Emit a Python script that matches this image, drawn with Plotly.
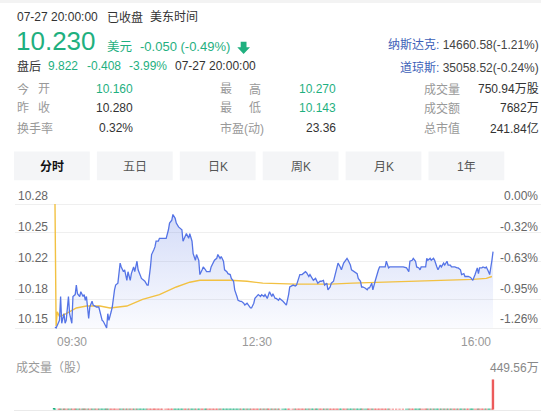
import plotly.graph_objects as go

W, H = 554, 415
FONT = "Arial, Liberation Sans, Noto Sans CJK SC, sans-serif"
GREEN = "#1fb07f"
RED = "#ec5b5b"
DARK = "#333333"
GRAY = "#999999"
AXIS_GRAY = "#666666"
BLUE_NAME = "#3d5fb8"

# ---------------- data ----------------
prev_close = 10.28
minutes = [
    0, 1, 4, 5, 6, 8, 9, 10, 12, 13,
    15, 16, 18, 19, 20, 22, 23, 25, 26, 27,
    28, 30, 31, 33, 34, 36, 37, 39, 40, 42,
    43, 45, 46, 47, 48, 50, 51, 53, 54, 56,
    58, 59, 61, 62, 64, 65, 67, 68, 70, 71,
    73, 74, 76, 77, 79, 80, 82, 83, 85, 86,
    88, 89, 90, 92, 93, 95, 96, 99, 101, 102,
    104, 105, 107, 108, 110, 111, 113, 114, 116, 117,
    119, 120, 122, 123, 125, 126, 128, 129, 131, 132,
    134, 135, 136, 138, 139, 141, 142, 144, 145, 147,
    148, 150, 151, 153, 154, 156, 157, 159, 160, 162,
    163, 165, 166, 168, 169, 171, 172, 174, 175, 177,
    178, 180, 181, 183, 184, 186, 187, 189, 190, 191,
    193, 194, 196, 197, 199, 200, 203, 205, 206, 208,
    209, 212, 214, 215, 217, 218, 220, 221, 223, 224,
    226, 227, 229, 230, 232, 233, 234, 236, 237, 239,
    240, 242, 243, 245, 246, 248, 249, 251, 252, 254,
    255, 257, 258, 260, 261, 263, 264, 266, 267, 269,
    270, 272, 273, 274, 276, 278, 279, 280, 282, 283,
    285, 286, 288, 289, 291, 292, 294, 295, 297, 298,
    301, 304, 307, 310, 313, 315, 316, 318, 319, 321,
    322, 324, 325, 326, 328, 330, 331, 332, 334, 335,
    337, 338, 340, 341, 343, 344, 346, 347, 349, 350,
    352, 353, 355, 356, 358, 359, 361, 362, 364, 365,
    367, 368, 370, 371, 372, 374, 376, 377, 378, 380,
    381, 383, 384, 386, 387, 389, 390,
]
price = [
    10.151, 10.150, 10.158, 10.183, 10.155, 10.165, 10.155, 10.158, 10.183, 10.165,
    10.155, 10.183, 10.185, 10.195, 10.186, 10.183, 10.188, 10.183, 10.185, 10.179,
    10.183, 10.160, 10.172, 10.178, 10.174, 10.172, 10.172, 10.172, 10.167, 10.158,
    10.157, 10.153, 10.150, 10.165, 10.158, 10.167, 10.172, 10.190, 10.195, 10.197,
    10.218, 10.214, 10.209, 10.211, 10.200, 10.209, 10.200, 10.207, 10.214, 10.209,
    10.220, 10.211, 10.204, 10.202, 10.200, 10.199, 10.195, 10.195, 10.214, 10.227,
    10.232, 10.235, 10.241, 10.241, 10.244, 10.244, 10.244, 10.244, 10.253, 10.260,
    10.263, 10.269, 10.265, 10.260, 10.256, 10.255, 10.253, 10.241, 10.246, 10.249,
    10.244, 10.249, 10.241, 10.228, 10.221, 10.227, 10.221, 10.206, 10.211, 10.214,
    10.211, 10.209, 10.209, 10.209, 10.214, 10.220, 10.221, 10.223, 10.227, 10.223,
    10.225, 10.220, 10.211, 10.209, 10.207, 10.206, 10.202, 10.199, 10.190, 10.183,
    10.179, 10.178, 10.178, 10.176, 10.174, 10.176, 10.174, 10.171, 10.171, 10.176,
    10.181, 10.183, 10.185, 10.183, 10.185, 10.183, 10.185, 10.181, 10.186, 10.188,
    10.183, 10.186, 10.181, 10.181, 10.179, 10.181, 10.178, 10.176, 10.174, 10.185,
    10.193, 10.195, 10.194, 10.195, 10.204, 10.206, 10.206, 10.207, 10.209, 10.208,
    10.204, 10.206, 10.202, 10.200, 10.202, 10.199, 10.197, 10.199, 10.199, 10.200,
    10.195, 10.197, 10.190, 10.193, 10.197, 10.199, 10.204, 10.213, 10.218, 10.214,
    10.211, 10.218, 10.220, 10.223, 10.221, 10.216, 10.211, 10.209, 10.209, 10.207,
    10.202, 10.199, 10.193, 10.193, 10.192, 10.190, 10.192, 10.192, 10.197, 10.190,
    10.199, 10.204, 10.211, 10.214, 10.214, 10.214, 10.214, 10.220, 10.213, 10.214,
    10.214, 10.214, 10.214, 10.214, 10.213, 10.209, 10.220, 10.221, 10.223, 10.220,
    10.214, 10.213, 10.211, 10.214, 10.214, 10.214, 10.223, 10.221, 10.223, 10.221,
    10.223, 10.221, 10.214, 10.211, 10.216, 10.214, 10.218, 10.216, 10.220, 10.216,
    10.216, 10.214, 10.214, 10.214, 10.213, 10.213, 10.211, 10.206, 10.207, 10.204,
    10.204, 10.204, 10.203, 10.202, 10.200, 10.206, 10.213, 10.207, 10.213, 10.213,
    10.214, 10.213, 10.214, 10.209, 10.206, 10.221, 10.230,
]
# volume per bar, in 万股
volume_wan = [
    12.5, 3.2, 2.8, 2.1, 1.9, 1.6, 1.4, 1.5, 1.3, 1.2,
    1.1, 1.4, 0.9, 1.0, 0.8, 0.9, 0.7, 0.8, 0.9, 0.7,
    0.8, 1.1, 0.9, 0.7, 0.6, 0.8, 0.5, 0.6, 0.7, 0.9,
    0.8, 0.7, 1.0, 0.9, 0.6, 0.7, 0.8, 1.2, 0.9, 0.8,
    1.1, 0.7, 0.6, 0.5, 0.8, 0.6, 0.7, 0.5, 0.6, 0.5,
    0.7, 0.6, 0.5, 0.4, 0.5, 0.6, 0.5, 0.4, 0.8, 0.9,
    0.7, 0.6, 0.8, 0.5, 0.6, 0.4, 0.5, 0.5, 0.7, 0.9,
    0.8, 1.0, 0.7, 0.6, 0.5, 0.4, 0.5, 0.7, 0.5, 0.4,
    0.5, 0.4, 0.6, 0.8, 0.6, 0.5, 0.4, 0.7, 0.5, 0.4,
    0.4, 0.3, 0.4, 0.3, 0.5, 0.4, 0.3, 0.4, 0.5, 0.4,
    0.3, 0.4, 0.5, 0.4, 0.3, 0.4, 0.3, 0.4, 0.5, 0.6,
    0.4, 0.3, 0.3, 0.4, 0.3, 0.3, 0.4, 0.3, 0.2, 0.3,
    0.3, 0.2, 0.3, 0.3, 0.2, 0.3, 0.2, 0.3, 0.3, 0.2,
    0.3, 0.2, 0.3, 0.2, 0.3, 0.2, 0.3, 0.2, 0.2, 0.4,
    0.5, 0.3, 0.2, 0.3, 0.4, 0.3, 0.3, 0.2, 0.3, 0.2,
    0.3, 0.2, 0.3, 0.2, 0.2, 0.3, 0.2, 0.3, 0.2, 0.2,
    0.3, 0.2, 0.4, 0.3, 0.2, 0.3, 0.4, 0.5, 0.4, 0.3,
    0.3, 0.4, 0.3, 0.4, 0.3, 0.3, 0.2, 0.3, 0.3, 0.2,
    0.3, 0.3, 0.4, 0.3, 0.3, 0.3, 0.2, 0.3, 0.3, 0.4,
    0.4, 0.3, 0.4, 0.3, 0.3, 0.3, 0.2, 0.3, 0.3, 0.2,
    0.2, 0.2, 0.3, 0.2, 0.3, 0.3, 0.4, 0.3, 0.4, 0.3,
    0.3, 0.3, 0.3, 0.3, 0.3, 0.2, 0.4, 0.3, 0.3, 0.3,
    0.3, 0.3, 0.4, 0.3, 0.4, 0.4, 0.3, 0.4, 0.3, 0.4,
    0.4, 0.4, 0.4, 0.5, 0.4, 0.4, 0.5, 0.4, 0.5, 0.5,
    0.5, 0.6, 0.5, 0.6, 0.6, 0.7, 0.7, 0.8, 0.8, 0.9,
    0.9, 1.0, 1.0, 1.2, 1.3, 2.1, 449.56,
]
avg_minutes = [0, 1, 2, 4, 10, 19, 28, 40, 49, 64, 78, 93, 108, 120, 129, 141,
               156, 171, 185, 215, 245, 265, 295, 325, 355, 372, 384, 389]
avg_price = [10.280, 10.152, 10.167, 10.162, 10.165, 10.171, 10.173, 10.173, 10.171,
             10.173, 10.180, 10.185, 10.193, 10.198, 10.200, 10.200, 10.200, 10.199,
             10.197, 10.196, 10.196, 10.197, 10.198, 10.199, 10.200, 10.201, 10.202, 10.204]

grid_prices = [10.28, 10.25, 10.22, 10.18, 10.15]
pct_labels = [0.00, -0.32, -0.63, -0.95, -1.26]
time_labels = ["09:30", "12:30", "16:00"]
tabs = ["分时", "五日", "日K", "周K", "月K", "1年"]

header_time = "07-27 20:00:00"
last_price = "10.230"
change = "-0.050 (-0.49%)"
after_hours = ["9.822", "-0.408", "-3.99%"]
indices = [("纳斯达克", "14660.58(-1.21%)"), ("道琼斯", "35058.52(-0.24%)")]
stats = [
    [("今开", "10.160", GREEN), ("最高", "10.270", GREEN), ("成交量", "750.94万股", DARK)],
    [("昨收", "10.280", DARK), ("最低", "10.143", GREEN), ("成交额", "7682万", DARK)],
    [("换手率", "0.32%", DARK), ("市盈(动)", "23.36", DARK), ("总市值", "241.84亿", DARK)],
]

# ---------------- helpers ----------------
def px(x):
    return x / W

def py(y):
    return 1 - y / H

annotations = []
shapes = []

def txt(x, y, text, size=12, color=DARK, xanchor="left", xref="paper", bold=False):
    annotations.append(dict(
        x=px(x) if xref == "paper" else x, y=py(y), xref=xref, yref="paper",
        text=f"<b>{text}</b>" if bold else text, showarrow=False,
        xanchor=xanchor, yanchor="middle",
        font=dict(family=FONT, size=size, color=color)))

# ---------------- traces ----------------
fig = go.Figure()
base_val = min(grid_prices)
# baseline for the area fill
fig.add_trace(go.Scatter(x=[minutes[0], minutes[-1]], y=[base_val, base_val],
                         mode="lines", line=dict(width=0), hoverinfo="skip",
                         xaxis="x", yaxis="y"))
# area fill under the price line
fig.add_trace(go.Scatter(
    x=minutes, y=price, mode="lines",
    line=dict(color="rgba(0,0,0,0)", width=0),
    fill="tonexty",
    fillgradient=dict(type="vertical",
                      colorscale=[[0, "rgba(90,120,228,0.03)"], [1, "rgba(90,120,228,0.26)"]],
                      start=base_val, stop=max(price)),
    hoverinfo="skip", xaxis="x", yaxis="y"))
# average price line (left label axis shares the same range)
fig.add_trace(go.Scatter(x=avg_minutes, y=avg_price, mode="lines",
                         line=dict(color="#f2c142", width=1.4),
                         hoverinfo="skip", xaxis="x", yaxis="y2"))
# price line (right percent axis shares the same range)
fig.add_trace(go.Scatter(x=minutes, y=price, mode="lines",
                         line=dict(color="#5574e6", width=1.3),
                         hoverinfo="skip", xaxis="x", yaxis="y3"))

bar_colors = []
prev = prev_close
for p in price:
    bar_colors.append(RED if p >= prev else GREEN)
    prev = p
fig.add_trace(go.Bar(x=minutes, y=volume_wan, xaxis="x2", yaxis="y4",
                     marker=dict(color=bar_colors, line=dict(color=bar_colors, width=1.5)),
                     hoverinfo="skip"))

# ---------------- axes ----------------
x_range = [-35.6, 432.7]
y_range = [10.145, 10.30]
x_domain = [px(15), px(541)]
label_vals = [prev_close * (1 + p / 100) for p in pct_labels]

tick_font = dict(family=FONT, size=12, color=AXIS_GRAY)
fig.update_layout(
    xaxis=dict(domain=x_domain, range=x_range, visible=False, anchor="y"),
    yaxis=dict(domain=[py(332.77), py(184.92)], range=y_range, anchor="x",
               tickvals=grid_prices, showticklabels=False, ticks="",
               gridcolor="#efefef", gridwidth=1, zeroline=False, showline=False),
    yaxis2=dict(overlaying="y", side="left", anchor="x", range=y_range,
                tickvals=label_vals, ticktext=[f"{v:.2f}" for v in label_vals],
                ticklabelposition="inside top", showgrid=False, zeroline=False,
                ticks="", tickfont=tick_font),
    yaxis3=dict(overlaying="y", side="right", anchor="x", range=y_range,
                tickvals=label_vals, ticktext=[f"{p:.2f}%" for p in pct_labels],
                ticklabelposition="inside top", showgrid=False, zeroline=False,
                ticks="", tickfont=tick_font),
    xaxis2=dict(domain=[px(14), px(541)], range=x_range, anchor="y4",
                showline=True, linecolor="#eaeaea", linewidth=1,
                showticklabels=False, showgrid=False, zeroline=False, ticks=""),
    yaxis4=dict(domain=[py(409.6), py(379.6)], range=[0, max(volume_wan)],
                visible=False, anchor="x2"),
)

# x tick labels
for i, lab in enumerate(time_labels):
    h, m = lab.split(":")
    mval = int(h) * 60 + int(m) - (9 * 60 + 30)
    anchor = "left" if i == 0 else ("right" if i == len(time_labels) - 1 else "center")
    txt(mval, 342, lab, color=GRAY, xanchor=anchor, xref="x")

# volume labels
txt(14, 367.6, "成交量（股）", color=GRAY)
txt(541, 367.6, f"{max(volume_wan):.2f}万", color="#888888", xanchor="right")

# ---------------- header ----------------
shapes.append(dict(type="rect", xref="paper", yref="paper", x0=0, x1=px(541),
                   y0=py(3), y1=1, fillcolor="#f3f3f3", line=dict(width=0), layer="below"))
txt(15, 17, header_time, color=DARK)
txt(105, 17, "已收盘", color=DARK)
txt(148, 17, "美东时间", color=DARK)

txt(14, 40.5, last_price, size=26, color=GREEN)
txt(105, 46.5, "美元", size=12.5, color=GREEN)
txt(138, 46.5, change, size=13, color=GREEN)
arrow = [(240.7, 41.7), (246.5, 41.7), (246.5, 47.3), (250, 47.3), (243.6, 54),
         (237.3, 47.3), (240.7, 47.3)]
path = "M " + " L ".join(f"{px(a):.5f},{py(b):.5f}" for a, b in arrow) + " Z"
shapes.append(dict(type="path", xref="paper", yref="paper", path=path,
                   fillcolor=GREEN, line=dict(width=0)))

txt(15, 66, "盘后", color=DARK)
for x, t in zip([46, 85, 127], after_hours):
    txt(x, 66, t, color=GREEN)
txt(173, 66, header_time, color=DARK)

for y, (name, val) in zip([45, 68], indices):
    txt(541, y, f'<span style="color:{BLUE_NAME}">{name}:</span> {val}',
        color="#444444", xanchor="right")

# ---------------- stats table ----------------
col_label_x = [15, 218, 422]
col_label_w = [37, 45, 36]
col_value_r = [135, 338, 541]
for r, row in enumerate(stats):
    y = [89.3, 108.3, 128.3][r]
    for c, (lab, val, vcol) in enumerate(row):
        if len(lab) == 2:
            txt(col_label_x[c], y, lab[0], color=GRAY)
            txt(col_label_x[c] + col_label_w[c], y, lab[1], color=GRAY, xanchor="right")
        else:
            txt(col_label_x[c], y, lab, color=GRAY)
        txt(col_value_r[c], y, val, color=vcol, xanchor="right")

# ---------------- tabs ----------------
for i, name in enumerate(tabs):
    x0 = 14 + i * 82.9
    x1 = x0 + 75.8
    shapes.append(dict(type="rect", xref="paper", yref="paper",
                       x0=px(x0), x1=px(x1), y0=py(180.3), y1=py(151.4),
                       fillcolor="#f4f5f7", line=dict(width=0), layer="below"))
    txt((x0 + x1) / 2, 166.5, name, color="#111111" if i == 0 else "#555555",
        xanchor="center", bold=(i == 0))

fig.update_layout(
    width=W, height=H, margin=dict(l=0, r=0, t=0, b=0),
    paper_bgcolor="white", plot_bgcolor="rgba(0,0,0,0)",
    showlegend=False, hovermode=False, bargap=0.2,
    annotations=annotations, shapes=shapes,
    font=dict(family=FONT, size=12, color=DARK),
)

fig.write_html("out.html", config={"displayModeBar": False},
               post_script="document.body.style.margin='0';")
